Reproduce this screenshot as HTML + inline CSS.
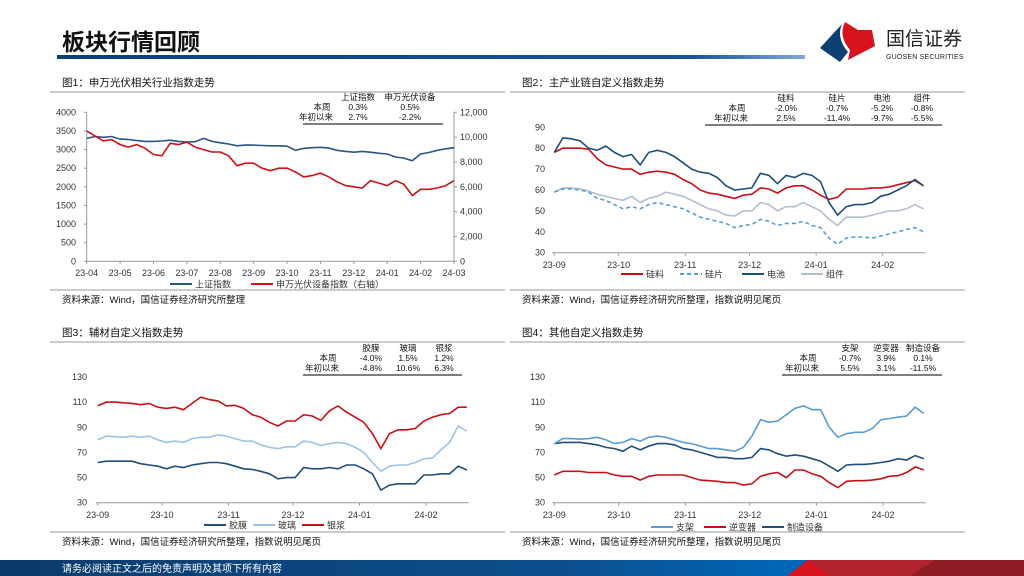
<!DOCTYPE html>
<html><head><meta charset="utf-8"><style>
body{margin:0;background:#fff}
svg{display:block;font-family:"Liberation Sans","Noto Sans CJK SC",sans-serif}
</style></head><body>
<svg id="pg" width="1024" height="576" viewBox="0 0 1024 576">
<defs>
<linearGradient id="hl" x1="0" x2="1"><stop offset="0" stop-color="#0b3f7a"/><stop offset="0.85" stop-color="#1a5496"/><stop offset="1" stop-color="#7fa9d6"/></linearGradient>
<linearGradient id="fb" x1="0" x2="1"><stop offset="0" stop-color="#0b3a6b"/><stop offset="0.55" stop-color="#0d4f8e"/><stop offset="0.77" stop-color="#0066b8"/></linearGradient>
</defs>
<text x="62" y="50" font-size="23" font-weight="bold" fill="#111">板块行情回顾</text>
<rect x="57" y="55" width="748" height="4" fill="url(#hl)"/>
<g>
<path d="M842 24 L820 48 L840 62 L848 52 Q836 38 842 24Z" fill="#0d3f73"/>
<path d="M845 22 Q838 36 850 50 L848 60 L875 46 L872 30 L858 30 Z" fill="#d7141d"/>
<text x="886" y="45" font-size="19" fill="#222">国信证券</text>
<text x="886" y="59" font-size="7" fill="#222" letter-spacing="0.2">GUOSEN SECURITIES</text>
</g>
<g id="charts"></g>
<rect x="0" y="560" width="1024" height="16" fill="url(#fb)"/>
<path d="M787 576 L808 560 L1024 560 L1024 576Z" fill="#b0232e"/>
<path d="M787 576 L808 560 L830 576Z" fill="#d7141d"/>
<path d="M910 576 L935 560 L1024 560 L1024 576Z" fill="#8e1c24"/>
<text x="62" y="572" font-size="10" fill="#fff">请务必阅读正文之后的免责声明及其项下所有内容</text>
</svg>
<script>
// ---- Chart 1 data (quarter-month steps from 23-04) ----
const c1Months = ["23-04","23-05","23-06","23-07","23-08","23-09","23-10","23-11","23-12","24-01","24-02","24-03"];
const c1LeftTicks = [0,500,1000,1500,2000,2500,3000,3500,4000];
const c1RightTicks = ["0","2,000","4,000","6,000","8,000","10,000","12,000"];
const c1Sh = [3300,3350,3330,3350,3280,3270,3240,3220,3220,3230,3250,3220,3200,3210,3300,3220,3180,3150,3100,3120,3120,3110,3100,3100,3090,2980,3030,3050,3060,3040,2980,2950,2930,2950,2930,2900,2880,2800,2770,2700,2880,2920,2980,3020,3050];
const c1Pv = [10500,10100,9700,9800,9400,9200,9400,9100,8600,8500,9500,9400,9600,9200,9000,8800,8800,8500,7700,7900,7900,7500,7300,7500,7500,7200,6800,6900,7100,6800,6400,6100,6000,5900,6500,6300,6100,6500,6200,5300,5800,5800,5900,6100,6500];
// ---- Shared month labels for charts 2-4 (4-day steps from 23-09-01) ----
const mLabels = ["23-09","23-10","23-11","23-12","24-01","24-02"];
const mDays = [0,30,61,91,122,153];
// ---- Chart 2 ----
const c2Ticks = [30,40,50,60,70,80,90];
const c2Gl = [78,80,80,80,79.5,75,72,71,70,70,67.5,68.5,69,68.5,67.5,65,63,60,58.5,58,57,56,57.5,58,61,60.5,58.5,61,62,62,60,57.5,55.5,56.5,60.5,60.5,60.5,61,61,61.5,62.5,63.5,64.5,62];
const c2Gp = [59,60.5,60.5,60,59,56,55,53,51,52,51,53,54,53,52,51,49,47,46,45,44,42,43,43.5,46,45,43,44,44,45,43,42,37,34,37,37.5,37.5,37,38,39,40,41,42,40];
const c2Dc = [78,85,84.5,83.5,80,79,81,78,76,77,72,78,79,78,76,73,70,68.5,68,66,62,60,60.5,61,68,67,63,67,66,68,67,64,54,48,52,53,53,54,57,58,60,62,65,62];
const c2Zj = [59,61,61,60.5,59.5,58,57,56,55,57,54,56,57,59,58,57,55,53,51,50,48,47.5,50,50,54,53,50,52,52,54,52,50,46,43,47,47,47,48,49,50,50,51,53,51];
// ---- Chart 3 ----
const c3Ticks = [30,50,70,90,110,130];
const c3Jm = [62,63,63,63,63,61,60,59,57,59,58,60,61,62,62,61,59,57,56.5,55,53,49,50,50,58,57,57,58,57,60,60,57,53,40,44,45,45,45,52,52,53,53,59,56];
const c3Bl = [80,83,82.5,82,83,82,83,80,78,79,78,81,82,82,84,83,81,79,79,76,74,73,74.5,74.5,79,78,75.5,77,78,77,74,70,62,55,59,60,60,62,65,65.5,72,78,91,87];
const c3Yj = [107,110,110,109.5,109,108,109,106,105,106,104,109,114,112,111,107,107.5,105,100,98,94,91,95,95,100,99,95.5,103,107,102,98,94,85,73,85,88,88,89,95,98,100,101,106,106];
// ---- Chart 4 ----
const c4Ticks = [30,50,70,90,110,130];
const c4Zj = [77,81,81,80.5,81,82,80,77,78,81,79,82,83,82,80,78,77,75,73,73,72,71,74,83,96,94,95,100,105,107,104,104,90,82,85,86,86,89,96,97,98,99,106,101];
const c4Nb = [52,55,55,55,54,54,54,52,51,51,48,51,52,52,52,52,50,48,47.5,47,46,46,44,45,51,53,54,50,56,56,53,51,46,42,47,47.5,47.5,48,49,51,51.5,54,58.5,56];
const c4Zz = [77,78,78,78,77,76,74,73,71,75,72,75,77,77,76,73,72,70,68,66,66,65,65,66,73,72,69,67,68,67,65,63,59,55,60,60.5,60.5,61,62,63,65,64,67.5,65];

const NS = "http://www.w3.org/2000/svg";
const root = document.getElementById('charts');
function mk(tag, attrs, parent, txt){
  const e = document.createElementNS(NS, tag);
  for (const k in attrs) e.setAttribute(k, attrs[k]);
  if (txt !== undefined) e.textContent = txt;
  (parent || root).appendChild(e);
  return e;
}
function lin(d0,d1,r0,r1){return v => r0 + (v-d0)/(d1-d0)*(r1-r0);}
function series(vals, xf, yf, step, color, dash, name, g){
  let d = vals.map((v,i)=>(i?'L':'M')+xf(i*step).toFixed(1)+' '+yf(v).toFixed(1)).join(' ');
  const p = mk('path',{d:d,fill:'none',stroke:color,'stroke-width':1.6}, g);
  if (dash) p.setAttribute('stroke-dasharray', dash);
  
  
}
function panel(x, title, tableY, rows, tbl){
  const g = mk('g',{});
  
  
  const t = mk('text',{x:x+12,y:rows.ty,'font-size':10.5,fill:'#111'},g,title);
  
  
  mk('line',{x1:x,x2:x+455,y1:rows.l1,y2:rows.l1,stroke:'#999','stroke-width':1},g);
  mk('line',{x1:x,x2:x+455,y1:rows.l2,y2:rows.l2,stroke:'#999','stroke-width':1},g);
  const s = mk('text',{x:x+12,y:rows.l2+13,'font-size':9.5,fill:'#111'},g,rows.src);
  
  
  const tg = mk('g',{'font-size':8.5,fill:'#111','text-anchor':'middle'},g);
  
  
  tbl.cols.forEach((c,i)=>{
    mk('text',{x:tbl.cx[i],y:tableY},tg,c);
    mk('text',{x:tbl.cx[i],y:tableY+10},tg,tbl.r1[i]);
    mk('text',{x:tbl.cx[i],y:tableY+20},tg,tbl.r2[i]);
  });
  mk('text',{x:tbl.lx,y:tableY+10},tg,'本周');
  mk('text',{x:tbl.lx-6,y:tableY+20},tg,'年初以来');
  mk('line',{x1:tbl.x1,x2:tbl.x2,y1:tableY+24,y2:tableY+24,stroke:'#333','stroke-width':1.2},g);
  return g;
}
function legend(g, items, y){
  items.forEach(it=>{
    const l = mk('line',{x1:it.x,x2:it.x+22,y1:y,y2:y,stroke:it.c,'stroke-width':2},g);
    if (it.dash) l.setAttribute('stroke-dasharray', it.dash);
    const t = mk('text',{x:it.x+25,y:y+3.5,'font-size':9,fill:'#333'},g,it.t);
    
    
  });
}
function monthAxis(g, xf, yb, labY){
  mk('line',{x1:xf(0)-2,x2:xf(172)+2,y1:yb,y2:yb,stroke:'#999'},g);
  mLabels.forEach((m,i)=>{
    mk('line',{x1:xf(mDays[i]),x2:xf(mDays[i]),y1:yb,y2:yb+3,stroke:'#999'},g);
    const t = mk('text',{x:xf(mDays[i]),y:labY,'font-size':9,fill:'#333','text-anchor':'middle'},g,m);
    
    
  });
}
function yAxis(g, ticks, yf, x){
  ticks.forEach(v=>{
    const t = mk('text',{x:x,y:yf(v)+3,'font-size':9,fill:'#333','text-anchor':'end'},g,v);
    
    
  });
}
const src2 = '资料来源：Wind，国信证券经济研究所整理，指数说明见尾页';

// Chart 1
(function(){
  const g = panel(50,'图1：申万光伏相关行业指数走势',100,{ty:86,l1:92,l2:290,src:'资料来源：Wind，国信证券经济研究所整理'},
    {cols:['上证指数','申万光伏设备'],r1:['0.3%','0.5%'],r2:['2.7%','-2.2%'],cx:[358,410],lx:322,x1:303,x2:443});
  const xf = lin(0,11,86.7,454);
  const yl = lin(0,4000,261.3,112.3);
  const yr = lin(0,12000,261.3,112.3);
  mk('line',{x1:86.7,x2:86.7,y1:112,y2:261.3,stroke:'#999'},g);
  mk('line',{x1:454,x2:454,y1:112,y2:261.3,stroke:'#999'},g);
  mk('line',{x1:86.7,x2:454,y1:261.3,y2:261.3,stroke:'#999'},g);
  c1LeftTicks.forEach(v=>{
    mk('line',{x1:84,x2:86.7,y1:yl(v),y2:yl(v),stroke:'#999'},g);
    const t = mk('text',{x:76,y:yl(v)+3,'font-size':9,fill:'#333','text-anchor':'end'},g,v);
    
    
  });
  c1RightTicks.forEach((s,i)=>{
    const y = yr(i*2000);
    mk('line',{x1:454,x2:457,y1:y,y2:y,stroke:'#999'},g);
    const t = mk('text',{x:460,y:y+3,'font-size':9,fill:'#333'},g,s);
    
    
  });
  c1Months.forEach((m,i)=>{
    mk('line',{x1:xf(i),x2:xf(i),y1:261.3,y2:264,stroke:'#999'},g);
    const t = mk('text',{x:xf(i),y:276,'font-size':9,fill:'#333','text-anchor':'middle'},g,m);
    
    
  });
  series(c1Sh, xf, yl, 0.25, '#2a5585', null, 'line-shanghai-index', g);
  series(c1Pv, xf, yr, 0.25, '#d0101a', null, 'line-pv-equipment-index', g);
  legend(g,[{x:170,c:'#2a5585',t:'上证指数'},{x:251,c:'#d0101a',t:'申万光伏设备指数（右轴）'}],284);
})();

// Chart 2
(function(){
  const g = panel(510,'图2：主产业链自定义指数走势',101,{ty:86,l1:92,l2:290,src:src2},
    {cols:['硅料','硅片','电池','组件'],r1:['-2.0%','-0.7%','-5.2%','-0.8%'],r2:['2.5%','-11.4%','-9.7%','-5.5%'],cx:[786,837,882,922],lx:737,x1:705,x2:942});
  const xf = lin(0,153,554.3,882.7);
  const yf = lin(30,90,252.7,127.3);
  monthAxis(g, xf, 252.7, 268);
  yAxis(g, c2Ticks, yf, 545);
  series(c2Zj, xf, yf, 4, '#b4bfcd', null, 'line-module', g);
  series(c2Gp, xf, yf, 4, '#5b9bd5', '4 3', 'line-wafer', g);
  series(c2Gl, xf, yf, 4, '#c8101a', null, 'line-polysilicon', g);
  series(c2Dc, xf, yf, 4, '#1f4e79', null, 'line-cell', g);
  legend(g,[{x:621,c:'#c8101a',t:'硅料'},{x:680,c:'#5b9bd5',t:'硅片',dash:'4 3'},{x:742,c:'#1f4e79',t:'电池'},{x:801,c:'#b4bfcd',t:'组件'}],274);
})();

// Chart 3
(function(){
  const g = panel(50,'图3：辅材自定义指数走势',351,{ty:336,l1:342,l2:532,src:src2},
    {cols:['胶膜','玻璃','银浆'],r1:['-4.0%','1.5%','1.2%'],r2:['-4.8%','10.6%','6.3%'],cx:[371,408,444],lx:328,x1:303,x2:462});
  const xf = lin(0,153,97.7,426);
  const yf = lin(30,130,502.7,377);
  monthAxis(g, xf, 502.7, 518);
  yAxis(g, c3Ticks, yf, 87);
  series(c3Bl, xf, yf, 4, '#9dc3e6', null, 'line-glass', g);
  series(c3Jm, xf, yf, 4, '#1f4e79', null, 'line-film', g);
  series(c3Yj, xf, yf, 4, '#c8101a', null, 'line-silver-paste', g);
  legend(g,[{x:204,c:'#1f4e79',t:'胶膜'},{x:253,c:'#9dc3e6',t:'玻璃'},{x:302,c:'#c8101a',t:'银浆'}],525);
})();

// Chart 4
(function(){
  const g = panel(510,'图4：其他自定义指数走势',351,{ty:336,l1:342,l2:532,src:src2},
    {cols:['支架','逆变器','制造设备'],r1:['-0.7%','3.9%','0.1%'],r2:['5.5%','3.1%','-11.5%'],cx:[850,886,923],lx:808,x1:782,x2:942});
  const xf = lin(0,153,554.3,883);
  const yf = lin(30,130,502.7,377);
  monthAxis(g, xf, 502.7, 518);
  yAxis(g, c4Ticks, yf, 545);
  series(c4Zz, xf, yf, 4, '#1f4e79', null, 'line-manufacturing-equipment', g);
  series(c4Nb, xf, yf, 4, '#c8101a', null, 'line-inverter', g);
  series(c4Zj, xf, yf, 4, '#5b9bd5', null, 'line-bracket', g);
  legend(g,[{x:651,c:'#5b9bd5',t:'支架'},{x:704,c:'#c8101a',t:'逆变器'},{x:762,c:'#1f4e79',t:'制造设备'}],527);
})();
</script>
</body></html>
